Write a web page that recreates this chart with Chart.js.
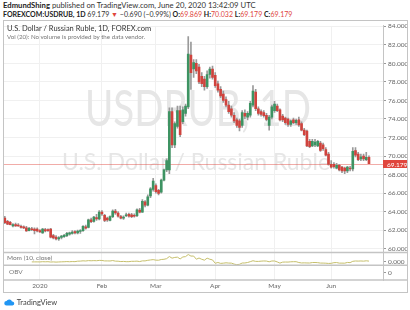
<!DOCTYPE html>
<html>
<head>
<meta charset="utf-8">
<script src="https://cdn.jsdelivr.net/npm/chart.js@4.4.1/dist/chart.umd.min.js"></script>
<style>
  html, body { margin: 0; padding: 0; background: #fff; }
  body { width: 410px; height: 310px; position: relative; overflow: hidden; font-family: Lato, "Open Sans", sans-serif; }
  .txt { position: absolute; white-space: nowrap; font-size: 7px; line-height: 8px; color: #333; }
  .b { font-weight: bold; color: #222; }
  .r { color: #e0463d; }
  .g { color: #777; }
  #wrap { position: absolute; left: 3px; top: 20px; width: 405px; height: 273px; }
</style>
</head>
<body>

<div class="txt" style="left:3px; top:1px; font-size:7.7px;"><span class="b">EdmundShing</span> published on TradingView.com, June 20, 2020 13:42:09 UTC</div>
<div class="txt" style="left:3px; top:10px;"><span class="b">FOREXCOM:USDRUB, 1D</span> 69.179 <span class="r">&#9660;</span> &minus;0.690 (&minus;0.99%) <span class="b">O:</span><span class="r">69.869</span> <span class="b">H:</span><span class="r">70.032</span> <span class="b">L:</span><span class="r">69.179</span> <span class="b">C:</span><span class="r">69.179</span></div>

<div id="wrap"><canvas id="usdrub" width="405" height="273"></canvas></div>

<div class="txt" style="left:7px; top:25px; font-size:7.5px; color:#333;">U.S. Dollar / Russian Ruble, 1D, FOREX.com</div>
<div class="txt g" style="left:7px; top:33px; font-size:6.2px;">Vol (20): No volume is provided by the data vendor.</div>
<div class="txt g" style="left:7px; top:254px; font-size:6.5px;">Mom (10, close)</div>
<div class="txt g" style="left:9px; top:268px; font-size:6.5px;">OBV</div>

<div class="txt" style="left:4px; top:298px; font-size:7.5px; line-height:10px; color:#444;">
  <svg width="11" height="7" viewBox="0 0 22 14" style="vertical-align:-1px"><path d="M5 13 a4.5 4.5 0 0 1 0-9 a6 6 0 0 1 11 1 a4 4 0 0 1 1 8z" fill="#2196f3"/></svg> TradingView
</div>

<script>
// trading days 13 Dec 2019 .. 19 Jun 2020, index = bar number
const monthTickIdx = [13, 36, 56, 78, 100, 121];
const monthTickLabels = ['2020', 'Feb', 'Mar', 'Apr', 'May', 'Jun'];
const priceTicks = [60, 62, 64, 66, 68, 70, 72, 74, 76, 78, 80, 82, 84];
const lastPrice = 69.179;

const opens = [
  63.30, 62.95, 62.85, 62.45, 62.60, 62.55, 62.40, 62.35, 62.25, 61.95, 62.15, 62.10, 62.10,
  61.95, 61.70, 62.05, 62.05, 62.10, 61.40, 61.25, 61.05, 61.20, 61.30, 61.40, 61.55, 61.65,
  61.85, 61.70, 61.85, 61.95, 62.35, 62.30, 63.10, 62.95, 63.35, 63.20,
  63.95, 63.60, 63.30, 63.05, 63.45, 64.05, 63.85, 63.45, 63.30, 63.55, 63.70, 63.65, 63.60,
  63.55, 64.15, 63.95, 65.05, 64.70, 65.70, 66.40,
  66.80, 66.30, 66.10, 67.40, 68.50, 68.50, 74.80, 71.20, 73.20, 74.90, 73.70, 74.60, 75.30,
  80.90, 79.40, 80.00, 79.60, 78.60, 78.30, 77.50, 78.80, 79.40,
  78.70, 77.80, 77.20, 76.70, 76.10, 75.50, 75.10, 74.40, 73.90, 73.80, 73.30, 74.60, 74.20,
  74.40, 75.50, 76.90, 75.10, 74.80, 74.70, 74.40, 73.30, 74.20,
  74.90, 75.40, 75.00, 74.30, 74.10, 74.00, 73.40, 73.90, 73.60, 73.90, 73.50, 72.80, 72.70,
  71.60, 71.10, 71.20, 71.10, 71.40, 71.20, 70.70, 70.20,
  69.10, 69.10, 68.70, 69.00, 68.80, 68.70, 68.40, 68.70, 68.60, 70.60, 70.20, 69.70, 70.00,
  69.60, 69.869
];
const highs = [
  63.50, 63.05, 62.95, 62.70, 62.75, 62.70, 62.55, 62.45, 62.40, 62.30, 62.30, 62.25, 62.25,
  62.05, 62.20, 62.20, 62.15, 62.20, 61.55, 61.40, 61.30, 61.45, 61.55, 61.75, 61.80, 61.95,
  61.95, 62.00, 62.05, 62.50, 62.55, 63.20, 63.30, 63.50, 63.70, 64.10,
  64.10, 63.70, 63.40, 63.55, 64.20, 64.25, 64.00, 63.60, 63.55, 63.85, 63.85, 63.80, 63.75,
  64.30, 64.35, 65.30, 65.20, 65.80, 66.60, 67.60,
  67.00, 66.40, 67.50, 68.60, 69.70, 75.20, 75.20, 73.70, 75.40, 75.40, 75.30, 75.60, 82.90,
  82.30, 80.40, 80.40, 79.90, 79.00, 78.60, 79.20, 79.60, 79.70,
  79.00, 78.10, 77.50, 77.00, 76.40, 75.90, 75.40, 74.70, 74.10, 74.00, 74.90, 75.00, 74.80,
  75.90, 77.60, 77.20, 75.30, 75.00, 74.90, 74.60, 74.40, 75.50,
  75.90, 75.60, 75.10, 74.50, 74.20, 74.10, 73.90, 74.10, 74.00, 74.20, 73.70, 73.00, 72.80,
  71.80, 71.80, 71.80, 71.70, 71.60, 71.40, 70.90, 70.40,
  69.50, 69.30, 69.20, 69.10, 68.90, 68.80, 68.90, 68.90, 70.90, 70.90, 70.40, 70.20, 70.20,
  70.40, 70.032
];
const lows = [
  62.70, 62.60, 62.55, 62.35, 62.40, 62.40, 62.20, 62.15, 61.85, 61.90, 61.95, 61.60, 61.80,
  61.75, 61.65, 61.80, 61.85, 61.15, 61.05, 60.95, 60.90, 61.05, 61.20, 61.30, 61.45, 61.55,
  61.60, 61.60, 61.65, 61.85, 62.10, 62.25, 62.80, 62.85, 63.05, 63.10,
  63.60, 62.90, 62.95, 63.00, 63.35, 63.70, 63.40, 63.20, 63.15, 63.45, 63.40, 63.35, 63.40,
  63.45, 63.85, 63.90, 64.50, 64.60, 65.50, 66.20,
  66.00, 65.80, 66.00, 67.30, 68.30, 68.10, 70.90, 70.90, 73.00, 72.10, 73.50, 74.30, 75.10,
  77.20, 78.50, 78.90, 77.80, 77.50, 77.10, 77.30, 78.40, 78.30,
  77.40, 76.90, 76.30, 75.80, 75.30, 74.60, 74.20, 73.60, 73.10, 72.70, 73.10, 74.00, 73.90,
  74.20, 75.30, 74.90, 74.40, 74.30, 74.20, 73.80, 72.80, 74.00,
  74.70, 74.80, 73.80, 73.70, 73.40, 73.20, 73.20, 73.50, 73.40, 73.20, 72.70, 72.20, 71.00,
  70.90, 71.00, 71.00, 71.00, 70.50, 70.60, 70.00, 69.00,
  68.70, 68.70, 68.60, 68.40, 68.20, 68.10, 68.20, 68.40, 68.40, 69.90, 69.50, 69.50, 69.50,
  69.50, 69.179
];
const closes = [
  62.80, 62.65, 62.60, 62.60, 62.45, 62.45, 62.30, 62.25, 61.90, 62.20, 62.05, 61.95, 61.90,
  61.80, 62.10, 61.90, 61.95, 61.25, 61.15, 61.05, 61.20, 61.35, 61.45, 61.65, 61.70, 61.80,
  61.70, 61.90, 61.95, 62.40, 62.20, 63.10, 62.90, 63.40, 63.20, 63.95,
  63.75, 63.05, 63.10, 63.45, 64.05, 63.85, 63.50, 63.30, 63.40, 63.65, 63.50, 63.45, 63.50,
  64.20, 63.95, 65.10, 64.70, 65.60, 66.45, 67.30,
  66.15, 65.95, 67.40, 68.50, 69.50, 74.80, 71.20, 73.50, 74.90, 72.30, 75.00, 75.40, 81.00,
  79.00, 80.10, 79.20, 78.00, 77.80, 77.50, 78.80, 79.40, 78.50,
  77.60, 77.10, 76.50, 76.00, 75.50, 74.80, 74.40, 73.80, 73.30, 73.10, 74.70, 74.30, 74.60,
  75.70, 77.00, 75.10, 74.60, 74.50, 74.35, 73.95, 74.20, 75.30,
  75.60, 74.90, 73.90, 73.90, 73.60, 73.40, 73.80, 73.60, 73.85, 73.35, 72.80, 72.30, 71.10,
  71.00, 71.60, 71.50, 71.60, 70.60, 70.80, 70.10, 69.10,
  68.80, 68.85, 69.00, 68.50, 68.40, 68.40, 68.80, 68.60, 70.50, 70.10, 69.60, 69.90, 69.70,
  69.87, 69.179
];

const upColor = '#3d9362';
const downColor = '#cf433d';

const bodies = opens.map((o, i) => ({ x: i, y: [o, closes[i]] }));
const wicks = highs.map((h, i) => ({ x: i, y: [lows[i], h] }));
const bodyColors = opens.map((o, i) => closes[i] >= o ? upColor : downColor);
// Mom(10, close) indicator: close minus close ten bars earlier
const mom = closes.map((c, i) => ({ x: i, y: i >= 10 ? c - closes[i - 10] : null }));

const tickFont = { family: 'Lato', size: 6.5 };

const panes = {
  id: 'panes',
  beforeDatasetsDraw(chart) {
    const { ctx, chartArea } = chart;
    const y = chart.scales.y;
    ctx.save();
    ctx.fillStyle = '#e6e6e6';
    ctx.textAlign = 'center';
    ctx.textBaseline = 'alphabetic';
    ctx.font = '50px Lato';
    ctx.fillText('USDRUB, 1D', 195, 106, 226);
    ctx.font = '24px Lato';
    ctx.fillText('U.S. Dollar / Russian Ruble', 193, 150, 268);
    // last price line
    const py = Math.round(y.getPixelForValue(lastPrice)) + 0.5;
    ctx.strokeStyle = 'rgba(224, 70, 61, 0.45)';
    ctx.lineWidth = 1;
    ctx.beginPath();
    ctx.moveTo(chartArea.left, py);
    ctx.lineTo(chartArea.right, py);
    ctx.stroke();
    ctx.restore();
  },
  afterDraw(chart) {
    const { ctx, chartArea, width, height } = chart;
    const y = chart.scales.y;
    ctx.save();
    ctx.strokeStyle = '#c4c4c4';
    ctx.lineWidth = 1.5;
    [chart.scales.y.bottom, chart.scales.yMom.bottom, chartArea.bottom].forEach(b => {
      ctx.beginPath();
      ctx.moveTo(0, b);
      ctx.lineTo(width, b);
      ctx.stroke();
    });
    ctx.lineWidth = 1;
    ctx.strokeRect(0.5, 0.5, width - 1, height - 1);
    // price label
    const py = Math.round(y.getPixelForValue(lastPrice));
    ctx.fillStyle = '#e0463d';
    ctx.fillRect(chartArea.right, py - 4, width - chartArea.right - 1, 8);
    ctx.fillStyle = '#fff';
    ctx.font = '6.5px Lato';
    ctx.textAlign = 'left';
    ctx.textBaseline = 'middle';
    ctx.fillText(lastPrice.toFixed(3), chartArea.right + 4, py + 0.5);
    ctx.restore();
  }
};

new Chart(document.getElementById('usdrub'), {
  type: 'bar',
  data: {
    datasets: [
      {
        label: 'Wick',
        data: wicks,
        yAxisID: 'y',
        backgroundColor: '#9a9a9a',
        barThickness: 1,
        grouped: false,
        order: 3
      },
      {
        label: 'Body',
        data: bodies,
        yAxisID: 'y',
        backgroundColor: bodyColors,
        barThickness: 2,
        grouped: false,
        order: 2
      },
      {
        type: 'line',
        label: 'Mom',
        data: mom,
        yAxisID: 'yMom',
        borderColor: '#c6bf6c',
        borderWidth: 1,
        pointRadius: 0,
        tension: 0,
        order: 1
      }
    ]
  },
  plugins: [panes],
  options: {
    responsive: false,
    animation: false,
    layout: { padding: { left: 1, top: 1, right: 0, bottom: 1 } },
    plugins: {
      legend: { display: false },
      tooltip: { enabled: false }
    },
    scales: {
      x: {
        type: 'linear',
        min: -0.3,
        max: 140.2,
        offset: false,
        afterBuildTicks: s => { s.ticks = monthTickIdx.map(v => ({ value: v })); },
        afterFit: s => { s.height = 12; },
        ticks: {
          autoSkip: false,
          maxRotation: 0,
          padding: 2,
          color: '#666',
          font: tickFont,
          callback: v => monthTickLabels[monthTickIdx.indexOf(v)]
        },
        grid: { color: '#f0f0f0', offset: false, drawTicks: false },
        border: { display: false }
      },
      y: {
        position: 'right',
        stack: 'panes',
        stackWeight: 231,
        min: 59.58,
        max: 84.05,
        afterBuildTicks: s => { s.ticks = priceTicks.map(v => ({ value: v })); },
        afterFit: s => { s.width = 25; },
        ticks: { autoSkip: false, color: '#666', font: tickFont, padding: 2, callback: v => v.toFixed(3) },
        grid: { color: '#f0f0f0', tickLength: 3, tickColor: '#999' },
        border: { color: '#c4c4c4' }
      },
      yMom: {
        position: 'right',
        stack: 'panes',
        stackWeight: 13,
        min: -7.3,
        max: 17.4,
        afterBuildTicks: s => { s.ticks = [{ value: 0 }]; },
        afterFit: s => { s.width = 25; },
        ticks: { autoSkip: false, color: '#666', font: tickFont, padding: 2, callback: v => v.toFixed(3) },
        grid: { drawOnChartArea: false, tickLength: 3, tickColor: '#999' },
        border: { color: '#c4c4c4' }
      },
      yObv: {
        position: 'right',
        stack: 'panes',
        stackWeight: 15,
        min: -1,
        max: 1,
        afterBuildTicks: s => { s.ticks = [{ value: 0 }]; },
        afterFit: s => { s.width = 25; },
        ticks: { autoSkip: false, color: '#666', font: tickFont, padding: 2, callback: v => String(v) },
        grid: { drawOnChartArea: false, tickLength: 3, tickColor: '#999' },
        border: { color: '#c4c4c4' }
      }
    }
  }
});
</script>
</body>
</html>
